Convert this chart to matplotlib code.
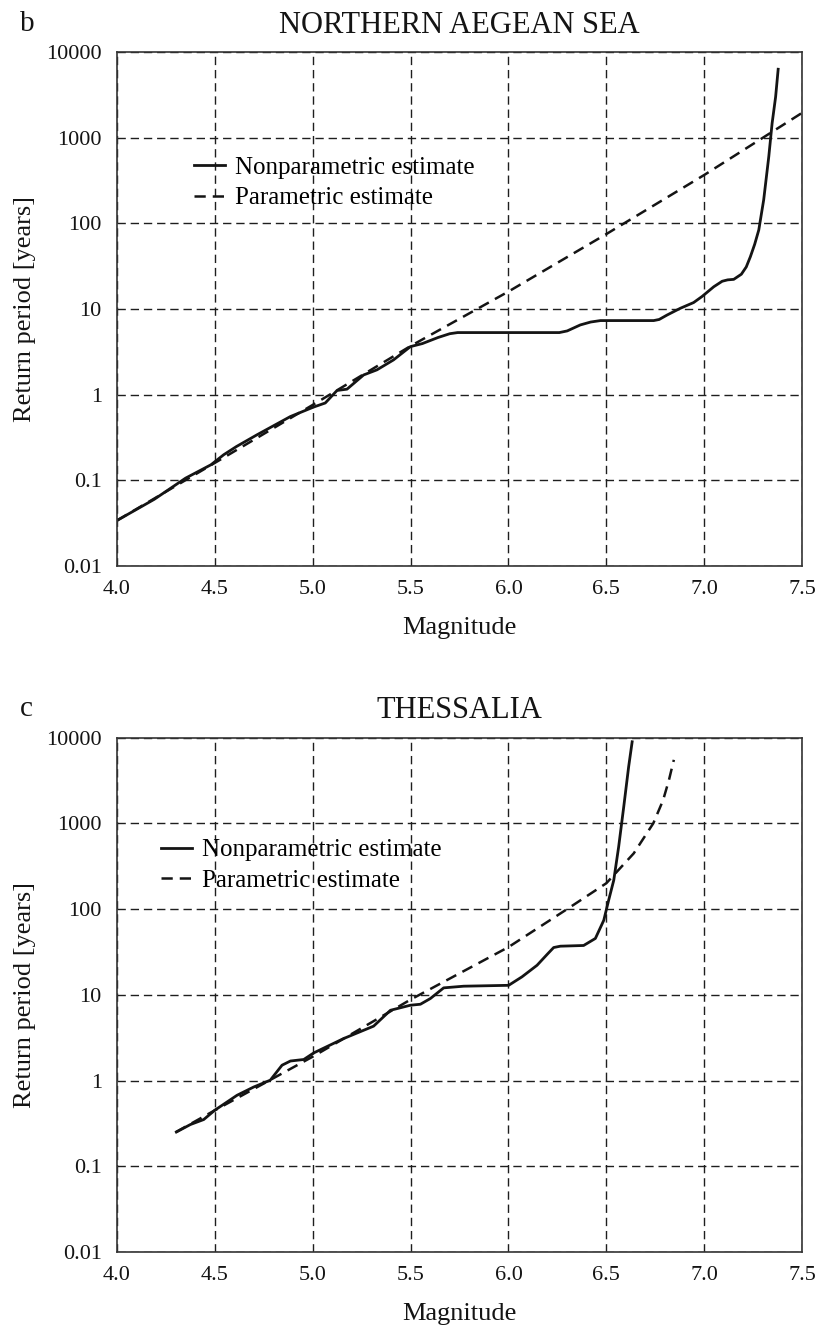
import matplotlib
matplotlib.use("Agg")
import matplotlib.pyplot as plt

plt.rcParams["font.family"] = ["Liberation Serif", "DejaVu Serif"]

# return period curves (magnitude, years)
aeg_np_m = [4.00, 4.19, 4.35, 4.48, 4.545, 4.61, 4.715, 4.886, 5.005, 5.064, 5.124, 5.175,
            5.26, 5.328, 5.413, 5.499, 5.56, 5.64, 5.70, 5.74, 6.26, 6.30, 6.367, 6.42,
            6.47, 6.742, 6.77, 6.81, 6.878, 6.946, 6.989, 7.049, 7.092, 7.12, 7.151,
            7.19, 7.215, 7.236, 7.258, 7.279, 7.304, 7.33, 7.347, 7.365, 7.378]
aeg_np_t = [0.034, 0.060, 0.106, 0.152, 0.199, 0.248, 0.34, 0.556, 0.718, 0.80, 1.12, 1.16,
            1.70, 1.95, 2.55, 3.64, 3.95, 4.65, 5.15, 5.31, 5.31, 5.55, 6.52, 7.05,
            7.33, 7.33, 7.55, 8.5, 10.2, 11.9, 14.0, 18.2, 21.1, 21.9, 22.2,
            25.5, 31.0, 40.8, 57.0, 83.8, 188, 600, 1470, 3000, 6300]
aeg_p_m = [4.0, 4.5, 5.0, 5.5, 6.0, 6.5, 7.0, 7.5]
aeg_p_t = [0.034, 0.16, 0.76, 3.7, 16.0, 75.0, 367.0, 1950.0]

the_np_m = [4.303, 4.375, 4.443, 4.499, 4.613, 4.698, 4.783, 4.843, 4.886, 4.954, 5.005,
            5.158, 5.311, 5.397, 5.499, 5.55, 5.601, 5.669, 5.771, 6.001, 6.069, 6.146,
            6.20, 6.231, 6.265, 6.384, 6.444, 6.487, 6.512, 6.538, 6.563, 6.589, 6.614, 6.632]
the_np_t = [0.251, 0.307, 0.351, 0.45, 0.673, 0.84, 1.01, 1.51, 1.69, 1.76, 2.10,
            3.09, 4.31, 6.6, 7.56, 7.76, 9.05, 12.05, 12.6, 12.9, 16.2, 22.1,
            30.0, 35.6, 36.9, 37.6, 45.4, 74, 127, 217, 532, 1560, 4560, 8930]
the_p_m = [4.30, 4.5, 5.0, 5.5, 6.0, 6.3, 6.5, 6.64, 6.74, 6.79, 6.82, 6.845]
the_p_t = [0.25, 0.45, 1.9, 8.8, 36.0, 100.0, 200.0, 446.0, 1000.0, 1860.0, 3200.0, 5500.0]

yticks = [0.01, 0.1, 1, 10, 100, 1000, 10000]
ytick_labels = ["0.01", "0.1", "1", "10", "100", "1000", "10000"]
xticks = [4.0, 4.5, 5.0, 5.5, 6.0, 6.5, 7.0, 7.5]

panels = [
    ("b", "NORTHERN AEGEAN SEA", aeg_np_m, aeg_np_t, aeg_p_m, aeg_p_t,
     [0.1436, 0.5738, 0.8405, 0.387], (0.112, 0.797)),
    ("c", "THESSALIA", the_np_m, the_np_t, the_p_m, the_p_t,
     [0.1436, 0.0572, 0.8405, 0.3874], (0.064, 0.803)),
]

fig = plt.figure(figsize=(8.15, 13.28), dpi=100)
ink = "#141414"

for tag, title, nm, nt, pm, pt, rect, leg_xy in panels:
    ax = fig.add_axes(rect)
    ax.plot(nm, nt, color=ink, lw=2.0, label="Nonparametric estimate")
    ax.plot(pm, pt, color=ink, lw=1.8, ls=(0, (4.5, 2.8)), label="Parametric estimate")
    ax.set_yscale("log")
    ax.set_xlim(4.0, 7.5)
    ax.set_ylim(0.01, 10000)
    ax.set_xticks(xticks)
    ax.set_xticklabels([f"{v:.1f}" for v in xticks])
    ax.set_yticks(yticks)
    ax.set_yticklabels(ytick_labels)
    ax.minorticks_off()
    ax.tick_params(length=0, labelsize=16, colors=ink)
    ax.tick_params(axis="y", pad=11)
    ax.tick_params(axis="x", pad=10)
    ax.grid(True, color="#1e1e1e", lw=1.0, ls=(0, (6, 3.5)))
    for sp in ax.spines.values():
        sp.set_color("#333333")
        sp.set_linewidth(1.2)
    ax.set_xlabel("Magnitude", fontsize=19, labelpad=13, color=ink)
    ax.set_ylabel("Return period [years]", fontsize=19, labelpad=7, color=ink)
    ax.set_title(title, fontsize=22, pad=14, color=ink)
    ax.text(-0.142, 1.03, tag, transform=ax.transAxes, fontsize=21, color=ink,
            ha="left", va="bottom")
    ax.legend(loc="upper left", bbox_to_anchor=leg_xy, frameon=False, fontsize=18,
              handlelength=1.25, handletextpad=0.4, labelspacing=0.32,
              borderpad=0, borderaxespad=0)

fig.savefig("out.png", dpi=100)
